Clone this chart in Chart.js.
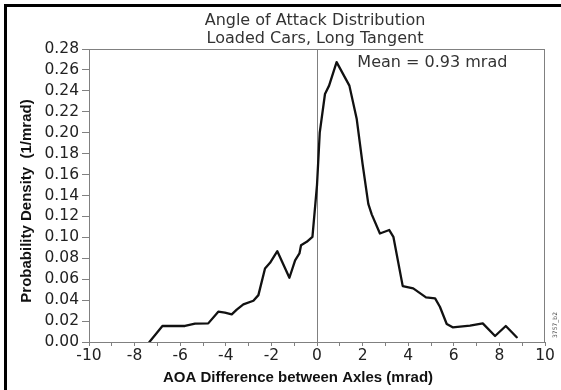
<!DOCTYPE html>
<html>
<head>
<meta charset="utf-8">
<script src="https://cdn.jsdelivr.net/npm/chart.js@4.4.1/dist/chart.umd.min.js"></script>
<style>
  html, body { margin: 0; padding: 0; background: #fff; }
  #wrap { width: 561px; height: 390px; }
</style>
</head>
<body>
<div id="wrap"><canvas id="aoa-chart" width="561" height="390"></canvas></div>
<script>
// AOA difference (mrad) and probability density (1/mrad)
const aoaValues = [-7.35, -6.78, -5.79, -5.35, -4.77, -4.33, -4.04, -3.74, -3.52, -3.23,
  -2.79, -2.57, -2.28, -2.06, -1.74, -1.21, -0.96, -0.77, -0.70, -0.45,
  -0.2, 0.0, 0.12, 0.35, 0.53, 0.86, 1.42, 1.74, 2.0, 2.25,
  2.4, 2.76, 3.17, 3.35, 3.76, 4.22, 4.78, 5.18, 5.39, 5.69,
  5.95, 6.71, 7.27, 7.81, 8.28, 8.76];
const densityValues = [0, 0.0153, 0.0153, 0.0175, 0.0178, 0.029, 0.028, 0.0264, 0.031, 0.036,
  0.0394, 0.0448, 0.0703, 0.0757, 0.0868, 0.0614, 0.078, 0.0846, 0.0925, 0.0957,
  0.1005, 0.15, 0.2, 0.237, 0.245, 0.2675, 0.245, 0.2134, 0.17, 0.132,
  0.122, 0.1037, 0.107, 0.1005, 0.0534, 0.0512, 0.0426, 0.0417, 0.0337, 0.0172,
  0.014, 0.0156, 0.0178, 0.0057, 0.0153, 0.0045];

const xLimits = [-10, 10];
const yLimits = [0, 0.28];
const titleLines = ['Angle of Attack Distribution', 'Loaded Cars, Long Tangent'];
const xTitle = 'AOA Difference between Axles (mrad)';
const yTitle = 'Probability Density  (1/mrad)';
const meanLabel = 'Mean = 0.93 mrad';
const meanPos = [1.77, 0.263];
const figureCode = '3757_b2';

const points = aoaValues.map((v, i) => ({ x: v, y: densityValues[i] }));

const decorations = {
  id: 'decorations',
  beforeDatasetsDraw(chart) {
    const { ctx, chartArea: a, scales: { x } } = chart;
    ctx.save();
    ctx.strokeStyle = '#808080';
    ctx.lineWidth = 1;
    ctx.strokeRect(a.left + 0.5, a.top + 0.5, a.right - a.left - 1, a.bottom - a.top);
    const x0 = Math.round(x.getPixelForValue(0)) + 0.5;
    ctx.beginPath();
    ctx.moveTo(x0, a.top);
    ctx.lineTo(x0, a.bottom);
    ctx.stroke();
    ctx.restore();
  },
  afterDraw(chart) {
    const { ctx, chartArea: a, scales: { x, y } } = chart;
    ctx.save();
    // titles
    ctx.fillStyle = '#333';
    ctx.font = '16px "DejaVu Sans"';
    ctx.textAlign = 'center';
    ctx.textBaseline = 'alphabetic';
    const cx = (a.left + a.right) / 2 - 2;
    ctx.fillText(titleLines[0], cx, 25);
    ctx.fillText(titleLines[1], cx, 43);

    ctx.textAlign = 'left';
    ctx.fillText(meanLabel, x.getPixelForValue(meanPos[0]), y.getPixelForValue(meanPos[1]));

    // axis titles
    ctx.fillStyle = '#111';
    ctx.font = 'bold 15px "Liberation Sans"';
    ctx.textAlign = 'center';
    ctx.textBaseline = 'middle';
    ctx.fillText(xTitle, 298, 378);
    ctx.save();
    ctx.translate(27, 201);
    ctx.rotate(-Math.PI / 2);
    ctx.fillText(yTitle, 0, 0);
    ctx.restore();

    // small figure code
    ctx.save();
    ctx.fillStyle = '#444';
    ctx.font = '6px "DejaVu Sans"';
    ctx.translate(555, 325);
    ctx.rotate(-Math.PI / 2);
    ctx.fillText(figureCode, 0, 0);
    ctx.restore();

    // outer frame
    ctx.fillStyle = '#000';
    ctx.fillRect(4, 4, 557, 3);
    ctx.fillRect(4, 4, 3, 386);
    ctx.restore();
  }
};

const ctx = document.getElementById('aoa-chart').getContext('2d');
const chart = new Chart(ctx, {
  type: 'scatter',
  data: {
    datasets: [{
      data: points,
      showLine: true,
      borderColor: '#111',
      borderWidth: 2.3,
      borderJoinStyle: 'round',
      borderCapStyle: 'round',
      pointRadius: 0,
      tension: 0,
    }],
  },
  options: {
    responsive: false,
    animation: false,
    devicePixelRatio: 1,
    layout: { padding: { left: 0, top: 49, right: 16, bottom: 0 } },
    plugins: {
      legend: { display: false },
      tooltip: { enabled: false },
    },
    scales: {
      x: {
        type: 'linear',
        min: xLimits[0],
        max: xLimits[1],
        afterFit(scale) { scale.height = 48; },
        ticks: {
          stepSize: 1,
          autoSkip: false,
          maxRotation: 0,
          padding: 1,
          color: '#222',
          font: { family: 'DejaVu Sans', size: 15.5 },
          callback: (v) => (v % 2 === 0 ? String(v) : ''),
        },
        grid: { drawOnChartArea: false, drawTicks: true, tickLength: 4, color: '#808080' },
        border: { display: true, color: '#808080' },
      },
      y: {
        min: yLimits[0],
        max: yLimits[1],
        afterFit(scale) { scale.width = 89; },
        ticks: {
          stepSize: 0.02,
          autoSkip: false,
          padding: 3,
          color: '#222',
          font: { family: 'DejaVu Sans', size: 15.5 },
          callback: (v) => v.toFixed(2),
        },
        grid: { drawOnChartArea: false, drawTicks: true, tickLength: 7, color: '#808080' },
        border: { display: true, color: '#808080' },
      },
    },
  },
  plugins: [decorations],
});
</script>
</body>
</html>
